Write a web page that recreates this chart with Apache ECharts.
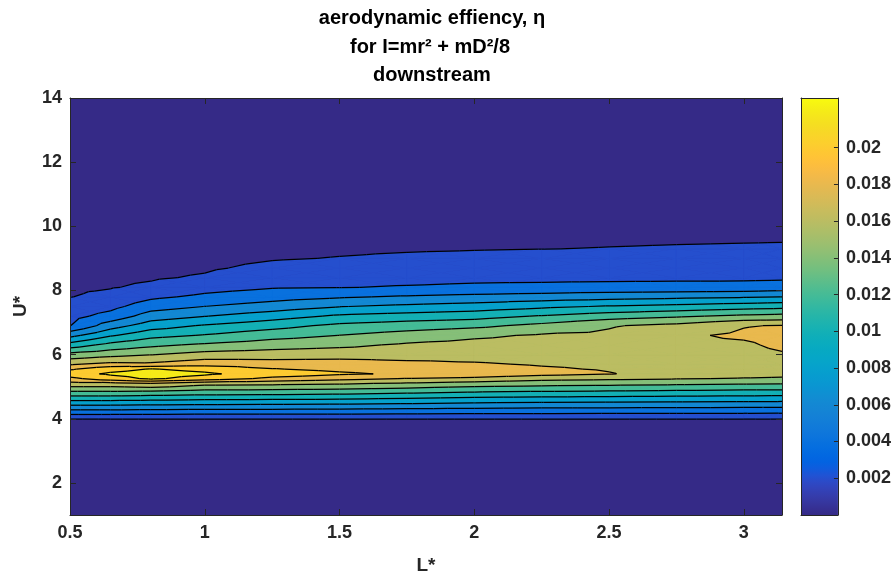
<!DOCTYPE html>
<html>
<head>
<meta charset="utf-8">
<script src="https://cdn.jsdelivr.net/npm/echarts@6/dist/echarts.min.js"></script>
<style>
  html, body { margin: 0; padding: 0; background: #ffffff; }
  #chart { width: 894px; height: 580px; }
</style>
</head>
<body>
<div id="chart"></div>
<script>
// Grid of the measurement: L* (columns) and U* (rows)
const Lstar = [0.5, 0.65, 0.8, 1.0, 1.25, 1.5, 1.75, 2.0, 2.25, 2.5, 2.75, 3.0, 3.1416];
const Ustar = [1, 3.9, 4.2, 4.5, 4.8, 5.1, 5.25, 5.4, 5.55, 5.7, 6.0, 6.3, 6.6, 6.9, 7.2, 7.5, 7.8, 8.1, 8.4, 8.7, 9.0, 9.3, 9.6, 10, 14];

// Aerodynamic efficiency eta(U*) for each L* column (same order as Ustar)
const eta_L050 = [0, 0.00075, 0.00491, 0.00907, 0.01323, 0.01738, 0.01946, 0.0212, 0.01973, 0.01779, 0.01463, 0.01088, 0.00738, 0.00396, 0.00335, 0.0026, 0.00195, 0.00172, 0.0015, 0.00128, 0.00105, 0.00082, 0.00059, 0.00028, 0];
const eta_L065 = [0, 0.00075, 0.00491, 0.00907, 0.01323, 0.01738, 0.0212, 0.0223, 0.0214, 0.0185, 0.01536, 0.01264, 0.00974, 0.00709, 0.00471, 0.00341, 0.00253, 0.0019, 0.00166, 0.00142, 0.00118, 0.00094, 0.0007, 0.00038, 0];
const eta_L080 = [0, 0.00078, 0.00485, 0.00893, 0.01301, 0.018, 0.0223, 0.0227, 0.0221, 0.0184, 0.01592, 0.01357, 0.01136, 0.00907, 0.00693, 0.00511, 0.00361, 0.0023, 0.00182, 0.00158, 0.00134, 0.0011, 0.00086, 0.00054, 0];
const eta_L100 = [0, 0.00081, 0.00477, 0.00874, 0.0127, 0.01666, 0.0212, 0.0223, 0.0215, 0.0193, 0.01677, 0.01433, 0.01214, 0.0102, 0.00794, 0.00602, 0.00442, 0.00323, 0.00218, 0.0018, 0.00156, 0.00132, 0.00108, 0.00076, 0];
const eta_L125 = [0, 0.00082, 0.00475, 0.00867, 0.0126, 0.01652, 0.0195, 0.0211, 0.0201, 0.01895, 0.017, 0.01506, 0.01321, 0.01129, 0.00908, 0.00693, 0.00518, 0.00383, 0.0031, 0.00237, 0.00188, 0.00164, 0.0014, 0.00108, 0];
const eta_L150 = [0, 0.00084, 0.0047, 0.00855, 0.0124, 0.01625, 0.01865, 0.0203, 0.01957, 0.01883, 0.01724, 0.01554, 0.01402, 0.01246, 0.01032, 0.00793, 0.0058, 0.00394, 0.00331, 0.00269, 0.00206, 0.00178, 0.00154, 0.00122, 0];
const eta_L175 = [0, 0.00088, 0.0046, 0.00832, 0.01204, 0.01575, 0.0179, 0.0197, 0.01906, 0.01843, 0.01731, 0.01628, 0.01481, 0.01303, 0.01083, 0.00846, 0.00622, 0.00414, 0.00344, 0.00284, 0.00224, 0.00186, 0.00162, 0.0013, 0];
const eta_L200 = [0, 0.00093, 0.00449, 0.00805, 0.01161, 0.01516, 0.0176, 0.0192, 0.01879, 0.01817, 0.01736, 0.01662, 0.01564, 0.0135, 0.01125, 0.00889, 0.00656, 0.00436, 0.00352, 0.00295, 0.00238, 0.00192, 0.00168, 0.00136, 0];
const eta_L225 = [0, 0.00096, 0.00443, 0.0079, 0.01137, 0.01484, 0.01658, 0.0187, 0.01822, 0.01785, 0.01731, 0.01676, 0.01622, 0.01456, 0.01216, 0.00957, 0.00691, 0.00446, 0.00357, 0.00303, 0.00249, 0.00198, 0.00174, 0.00142, 0];
const eta_L250 = [0, 0.00098, 0.00439, 0.0078, 0.01122, 0.01463, 0.01634, 0.0181, 0.01786, 0.01765, 0.01723, 0.01681, 0.01639, 0.01582, 0.01305, 0.01019, 0.00724, 0.00458, 0.0036, 0.00309, 0.00257, 0.00205, 0.00178, 0.00146, 0];
const eta_L275 = [0, 0.001, 0.00435, 0.00771, 0.01107, 0.01443, 0.01611, 0.0172, 0.0173, 0.01735, 0.0174, 0.01755, 0.0177, 0.0166, 0.0137, 0.01063, 0.0075, 0.00464, 0.00362, 0.00312, 0.00263, 0.00213, 0.00182, 0.0015, 0];
const eta_L300 = [0, 0.00101, 0.00431, 0.00762, 0.01093, 0.01423, 0.01589, 0.0166, 0.0169, 0.0171, 0.0174, 0.0177, 0.0183, 0.0179, 0.01442, 0.01111, 0.00779, 0.0047, 0.00363, 0.00315, 0.00267, 0.00219, 0.00186, 0.00154, 0];
const eta_L314 = [0, 0.00102, 0.0043, 0.00758, 0.01086, 0.01414, 0.01578, 0.0165, 0.017, 0.0173, 0.0178, 0.0184, 0.0186, 0.0181, 0.01467, 0.01133, 0.00801, 0.00495, 0.00368, 0.0032, 0.00272, 0.00224, 0.00188, 0.00156, 0];

const etaColumns = [eta_L050, eta_L065, eta_L080, eta_L100, eta_L125, eta_L150, eta_L175,
                    eta_L200, eta_L225, eta_L250, eta_L275, eta_L300, eta_L314];

// Contour levels and axis ticks
const contourLevels = [0.002, 0.004, 0.006, 0.008, 0.010, 0.012, 0.014, 0.016, 0.018, 0.020, 0.022];
const xTicks = [0.5, 1, 1.5, 2, 2.5, 3];
const yTicks = [2, 4, 6, 8, 10, 12, 14];
const cbTicks = [0.002, 0.004, 0.006, 0.008, 0.01, 0.012, 0.014, 0.016, 0.018, 0.02];

// Parula colour map (64 entries)
const PARULA = [
[0.2081,0.1663,0.5292],[0.2116,0.1898,0.5777],[0.2123,0.2138,0.6270],[0.2081,0.2386,0.6771],
[0.1959,0.2645,0.7279],[0.1707,0.2919,0.7792],[0.1253,0.3242,0.8303],[0.0591,0.3598,0.8683],
[0.0117,0.3875,0.8820],[0.0060,0.4086,0.8828],[0.0165,0.4266,0.8786],[0.0329,0.4430,0.8720],
[0.0498,0.4586,0.8641],[0.0629,0.4737,0.8554],[0.0723,0.4887,0.8467],[0.0779,0.5040,0.8384],
[0.0793,0.5200,0.8312],[0.0749,0.5375,0.8263],[0.0641,0.5570,0.8240],[0.0488,0.5772,0.8228],
[0.0343,0.5966,0.8199],[0.0265,0.6137,0.8135],[0.0239,0.6287,0.8038],[0.0231,0.6418,0.7913],
[0.0228,0.6535,0.7768],[0.0267,0.6642,0.7607],[0.0384,0.6743,0.7436],[0.0590,0.6838,0.7254],
[0.0843,0.6928,0.7062],[0.1133,0.7015,0.6859],[0.1453,0.7098,0.6646],[0.1801,0.7177,0.6424],
[0.2178,0.7250,0.6193],[0.2586,0.7317,0.5954],[0.3022,0.7376,0.5712],[0.3482,0.7424,0.5473],
[0.3953,0.7459,0.5244],[0.4420,0.7481,0.5033],[0.4871,0.7491,0.4840],[0.5300,0.7491,0.4661],
[0.5709,0.7485,0.4494],[0.6099,0.7473,0.4337],[0.6473,0.7456,0.4188],[0.6834,0.7435,0.4044],
[0.7184,0.7411,0.3905],[0.7525,0.7384,0.3768],[0.7858,0.7356,0.3633],[0.8185,0.7327,0.3498],
[0.8507,0.7299,0.3360],[0.8824,0.7274,0.3217],[0.9139,0.7258,0.3063],[0.9450,0.7261,0.2886],
[0.9739,0.7314,0.2666],[0.9938,0.7455,0.2403],[0.9990,0.7653,0.2164],[0.9955,0.7861,0.1967],
[0.9880,0.8066,0.1794],[0.9789,0.8271,0.1633],[0.9697,0.8481,0.1475],[0.9626,0.8705,0.1309],
[0.9589,0.8949,0.1132],[0.9598,0.9218,0.0948],[0.9661,0.9514,0.0755],[0.9763,0.9831,0.0538]
];

function rgbOf(c) {
  return 'rgb(' + Math.round(c[0] * 255) + ',' + Math.round(c[1] * 255) + ',' + Math.round(c[2] * 255) + ')';
}
function parula(t) {
  t = Math.max(0, Math.min(1, t));
  const p = t * (PARULA.length - 1);
  const i = Math.min(Math.floor(p), PARULA.length - 2);
  const f = p - i;
  const a = PARULA[i], b = PARULA[i + 1];
  return rgbOf([a[0] + (b[0] - a[0]) * f, a[1] + (b[1] - a[1]) * f, a[2] + (b[2] - a[2]) * f]);
}

let zMin = Infinity, zMax = -Infinity;
etaColumns.forEach(col => col.forEach(v => { zMin = Math.min(zMin, v); zMax = Math.max(zMax, v); }));

// Fill colour of each band: region below the first level uses the data minimum,
// every other band uses the colour of its lower level.
const bandColors = [];
for (let b = 0; b <= contourLevels.length; b++) {
  const v = b === 0 ? zMin : contourLevels[b - 1];
  bandColors.push(parula((v - zMin) / (zMax - zMin)));
}

// One item per grid cell: [L centre, U centre, column index, row index]
const cells = [];
for (let j = 0; j < Ustar.length - 1; j++) {
  for (let i = 0; i < Lstar.length - 1; i++) {
    cells.push([(Lstar[i] + Lstar[i + 1]) / 2, (Ustar[j] + Ustar[j + 1]) / 2, i, j]);
  }
}

// Split a cell into four triangles around its centre (pixel space, with values)
function cellTriangles(api, i, j) {
  const idx = [[i, j], [i + 1, j], [i + 1, j + 1], [i, j + 1]];
  const corners = idx.map(([a, b]) => {
    const p = api.coord([Lstar[a], Ustar[b]]);
    return { x: p[0], y: p[1], z: etaColumns[a][b] };
  });
  const cz = (corners[0].z + corners[1].z + corners[2].z + corners[3].z) / 4;
  const cp = api.coord([(Lstar[i] + Lstar[i + 1]) / 2, (Ustar[j] + Ustar[j + 1]) / 2]);
  const centre = { x: cp[0], y: cp[1], z: cz };
  return [0, 1, 2, 3].map(k => [corners[k], corners[(k + 1) % 4], centre]);
}

function edgePoint(a, b, lev) {
  const t = (lev - a.z) / (b.z - a.z);
  return { x: a.x + t * (b.x - a.x), y: a.y + t * (b.y - a.y), z: lev };
}

// Keep the part of a polygon where the linear field is >= lev
function clipAbove(poly, lev) {
  const out = [];
  for (let k = 0; k < poly.length; k++) {
    const a = poly[k], b = poly[(k + 1) % poly.length];
    const ina = a.z >= lev, inb = b.z >= lev;
    if (ina) out.push(a);
    if (ina !== inb) out.push(edgePoint(a, b, lev));
  }
  return out;
}

// Filled contours: each level's super-level set is painted over the lower ones
function renderFill(params, api) {
  const c = cells[params.dataIndex];
  const children = [];
  cellTriangles(api, c[2], c[3]).forEach(tri => {
    const tmax = Math.max(tri[0].z, tri[1].z, tri[2].z);
    for (let b = 1; b <= contourLevels.length; b++) {
      const lev = contourLevels[b - 1];
      if (tmax < lev) break;
      const poly = clipAbove(tri, lev);
      if (poly.length < 3) continue;
      children.push({
        type: 'polygon',
        z2: b,
        shape: { points: poly.map(p => [p.x, p.y]) },
        style: { fill: bandColors[b], stroke: bandColors[b], lineWidth: 0.7 }
      });
    }
  });
  return { type: 'group', children: children };
}

// Contour lines: the same >= test as the fills, so edges and lines agree
function renderLines(params, api) {
  const c = cells[params.dataIndex];
  const children = [];
  cellTriangles(api, c[2], c[3]).forEach(tri => {
    contourLevels.forEach(lev => {
      const pts = [];
      for (let k = 0; k < 3; k++) {
        const a = tri[k], b = tri[(k + 1) % 3];
        if ((a.z >= lev) !== (b.z >= lev)) pts.push(edgePoint(a, b, lev));
      }
      if (pts.length === 2) {
        children.push({
          type: 'line',
          shape: { x1: pts[0].x, y1: pts[0].y, x2: pts[1].x, y2: pts[1].y },
          style: { stroke: '#000000', lineWidth: 1.25 }
        });
      }
    });
  });
  return { type: 'group', children: children };
}

function renderColorbar(params, api) {
  const p0 = api.coord([0, zMin]);
  const p1 = api.coord([1, zMax]);
  const stops = PARULA.map((c, k) => ({ offset: k / (PARULA.length - 1), color: rgbOf(c) }));
  return {
    type: 'rect',
    shape: { x: p0[0], y: p1[1], width: p1[0] - p0[0], height: p0[1] - p1[1] },
    style: { fill: new echarts.graphic.LinearGradient(0, 1, 0, 0, stops) }
  };
}

const FONT = '"Liberation Sans", Arial, Helvetica, sans-serif';
const INK = '#262626';
const frameLine = { show: true, onZero: false, lineStyle: { color: INK, width: 1 } };

function boxAxis(extra) {
  return Object.assign({
    type: 'value',
    z: 10,
    axisLine: frameLine,
    splitLine: { show: false },
    axisTick: { show: false },
    axisLabel: { show: false }
  }, extra);
}

const tickLabel = { color: INK, fontSize: 18, fontWeight: 'bold', fontFamily: FONT };

const chart = echarts.init(document.getElementById('chart'), null, { renderer: 'canvas' });
chart.setOption({
  animation: false,
  backgroundColor: '#ffffff',
  grid: [
    { left: 70, top: 98, width: 712, height: 417, show: true, borderWidth: 0, backgroundColor: bandColors[0] },
    { left: 801, top: 98, width: 37, height: 417 }
  ],
  xAxis: [
    boxAxis({
      gridIndex: 0, min: 0.5, max: 3.1416, position: 'bottom',
      axisTick: { show: true, inside: true, length: 6, customValues: xTicks, lineStyle: { color: INK } },
      axisLabel: Object.assign({ show: true, margin: 9, customValues: xTicks }, tickLabel),
      name: 'L*', nameLocation: 'middle', nameGap: 41,
      nameTextStyle: { color: INK, fontSize: 19, fontWeight: 'bold', fontFamily: FONT }
    }),
    boxAxis({
      gridIndex: 0, min: 0.5, max: 3.1416, position: 'top',
      axisTick: { show: true, inside: true, length: 6, customValues: xTicks, lineStyle: { color: INK } }
    }),
    boxAxis({ gridIndex: 1, min: 0, max: 1, position: 'bottom' }),
    boxAxis({ gridIndex: 1, min: 0, max: 1, position: 'top' })
  ],
  yAxis: [
    boxAxis({
      gridIndex: 0, min: 1, max: 14, position: 'left',
      axisTick: { show: true, inside: true, length: 6, customValues: yTicks, lineStyle: { color: INK } },
      axisLabel: Object.assign({ show: true, margin: 8, customValues: yTicks }, tickLabel),
      name: 'U*', nameLocation: 'middle', nameGap: 40, nameRotate: 90,
      nameTextStyle: { color: INK, fontSize: 19, fontWeight: 'bold', fontFamily: FONT }
    }),
    boxAxis({
      gridIndex: 0, min: 1, max: 14, position: 'right',
      axisTick: { show: true, inside: true, length: 6, customValues: yTicks, lineStyle: { color: INK } }
    }),
    boxAxis({ gridIndex: 1, min: 0, max: zMax, position: 'left' }),
    boxAxis({
      gridIndex: 1, min: 0, max: zMax, position: 'right',
      axisTick: { show: true, inside: true, length: 4, customValues: cbTicks, lineStyle: { color: INK } },
      axisLabel: Object.assign({
        show: true, margin: 8, customValues: cbTicks,
        formatter: v => String(parseFloat(Number(v).toFixed(4)))
      }, tickLabel)
    })
  ],
  graphic: [
    { type: 'text', x: 432, y: 18, z: 20, style: { text: 'aerodynamic effiency, η', font: 'bold 20px ' + FONT, fill: '#000000', align: 'center', verticalAlign: 'middle' } },
    { type: 'text', x: 430, y: 47, z: 20, style: { text: 'for I=mr² + mD²/8', font: 'bold 20px ' + FONT, fill: '#000000', align: 'center', verticalAlign: 'middle' } },
    { type: 'text', x: 432, y: 75, z: 20, style: { text: 'downstream', font: 'bold 20px ' + FONT, fill: '#000000', align: 'center', verticalAlign: 'middle' } }
  ],
  series: [
    {
      type: 'custom', name: 'eta bands', coordinateSystem: 'cartesian2d',
      xAxisIndex: 0, yAxisIndex: 0, clip: true, silent: true, z: 1,
      encode: { x: 0, y: 1 }, data: cells, renderItem: renderFill
    },
    {
      type: 'custom', name: 'eta contours', coordinateSystem: 'cartesian2d',
      xAxisIndex: 0, yAxisIndex: 0, clip: true, silent: true, z: 2,
      encode: { x: 0, y: 1 }, data: cells, renderItem: renderLines
    },
    {
      type: 'custom', name: 'colour bar', coordinateSystem: 'cartesian2d',
      xAxisIndex: 2, yAxisIndex: 2, silent: true, z: 1,
      encode: { x: 0, y: 1 }, data: [[0.5, zMax / 2]], renderItem: renderColorbar
    }
  ]
});
</script>
</body>
</html>
